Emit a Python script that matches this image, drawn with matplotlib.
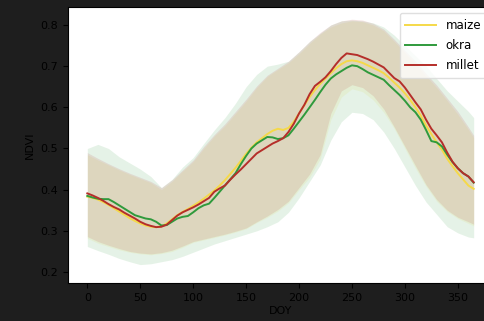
import numpy as np
import matplotlib
matplotlib.use("Agg")
import matplotlib.pyplot as plt

# ---------- Data ----------
doy = list(range(0, 365, 5)) + [365]

maize_mean = [0.383, 0.380, 0.376, 0.370, 0.363, 0.355, 0.347, 0.339, 0.331, 0.324,
              0.318, 0.313, 0.310, 0.309, 0.311, 0.318, 0.328, 0.338, 0.346, 0.353,
              0.361, 0.369, 0.378, 0.388, 0.398, 0.410, 0.423, 0.438, 0.453, 0.470,
              0.487, 0.502, 0.515, 0.525, 0.535, 0.543, 0.548, 0.545, 0.550, 0.565,
              0.585, 0.605, 0.625, 0.642, 0.657, 0.670, 0.683, 0.695, 0.705, 0.712,
              0.714, 0.712, 0.708, 0.702, 0.696, 0.690, 0.683, 0.672, 0.660, 0.648,
              0.634, 0.618, 0.600, 0.580, 0.556, 0.535, 0.515, 0.497, 0.475, 0.457,
              0.440, 0.425, 0.410, 0.402]
okra_mean = [0.385, 0.381, 0.378, 0.377, 0.377, 0.370, 0.362, 0.354, 0.346, 0.338,
             0.334, 0.330, 0.328, 0.322, 0.313, 0.314, 0.322, 0.330, 0.334, 0.336,
             0.345, 0.355, 0.362, 0.366, 0.380, 0.395, 0.410, 0.425, 0.440, 0.462,
             0.482, 0.500, 0.512, 0.520, 0.528, 0.527, 0.523, 0.525, 0.532, 0.548,
             0.565, 0.582, 0.600, 0.618, 0.637, 0.655, 0.670, 0.680, 0.688, 0.696,
             0.702, 0.700, 0.693, 0.685, 0.679, 0.673, 0.667, 0.654, 0.642, 0.630,
             0.616, 0.600, 0.588, 0.570, 0.545, 0.518, 0.515, 0.505, 0.485, 0.467,
             0.452, 0.440, 0.432, 0.417]
millet_mean = [0.391, 0.386, 0.380, 0.373, 0.365, 0.358, 0.352, 0.344, 0.337, 0.330,
               0.322, 0.316, 0.312, 0.309, 0.310, 0.315, 0.326, 0.337, 0.345, 0.351,
               0.357, 0.364, 0.372, 0.380, 0.395, 0.403, 0.410, 0.424, 0.437, 0.449,
               0.462, 0.475, 0.488, 0.496, 0.504, 0.512, 0.518, 0.525, 0.540, 0.560,
               0.585, 0.606, 0.632, 0.652, 0.662, 0.673, 0.688, 0.705, 0.720, 0.731,
               0.729, 0.727, 0.722, 0.717, 0.711, 0.704, 0.697, 0.684, 0.671, 0.663,
               0.648, 0.630, 0.612, 0.595, 0.570, 0.548, 0.532, 0.515, 0.490, 0.468,
               0.452, 0.440, 0.432, 0.418]

# spread bands (10-day steps)
band_doy = list(range(0, 365, 10)) + [365]
maize_lo = [0.282, 0.270, 0.262, 0.254, 0.248, 0.244, 0.242, 0.245, 0.250, 0.260,
            0.272, 0.278, 0.284, 0.290, 0.297, 0.305, 0.320, 0.333, 0.348, 0.368,
            0.400, 0.430, 0.475, 0.570, 0.625, 0.645, 0.638, 0.618, 0.588, 0.548,
            0.500, 0.452, 0.408, 0.372, 0.347, 0.330, 0.318, 0.312]
maize_hi = [0.485, 0.472, 0.460, 0.448, 0.437, 0.427, 0.417, 0.400, 0.420, 0.445,
            0.468, 0.500, 0.530, 0.555, 0.585, 0.615, 0.648, 0.675, 0.692, 0.708,
            0.730, 0.755, 0.778, 0.795, 0.805, 0.810, 0.808, 0.800, 0.786, 0.760,
            0.733, 0.706, 0.676, 0.648, 0.616, 0.583, 0.546, 0.526]
millet_lo = [0.286, 0.274, 0.265, 0.257, 0.250, 0.246, 0.244, 0.247, 0.253, 0.263,
             0.274, 0.280, 0.286, 0.292, 0.299, 0.307, 0.322, 0.336, 0.352, 0.372,
             0.405, 0.438, 0.485, 0.585, 0.640, 0.655, 0.648, 0.628, 0.596, 0.552,
             0.505, 0.458, 0.412, 0.376, 0.350, 0.333, 0.322, 0.316]
millet_hi = [0.490, 0.476, 0.463, 0.451, 0.440, 0.430, 0.420, 0.405, 0.424, 0.448,
             0.472, 0.505, 0.534, 0.560, 0.590, 0.620, 0.652, 0.678, 0.695, 0.712,
             0.735, 0.760, 0.782, 0.800, 0.810, 0.814, 0.812, 0.804, 0.790, 0.765,
             0.738, 0.712, 0.682, 0.654, 0.622, 0.590, 0.552, 0.532]
okra_lo = [0.262, 0.252, 0.243, 0.233, 0.225, 0.218, 0.220, 0.225, 0.230, 0.238,
           0.248, 0.258, 0.268, 0.276, 0.284, 0.292, 0.300, 0.310, 0.322, 0.345,
           0.380, 0.420, 0.460, 0.520, 0.565, 0.588, 0.585, 0.570, 0.540, 0.500,
           0.455, 0.410, 0.370, 0.340, 0.310, 0.295, 0.285, 0.283]
okra_hi = [0.500, 0.510, 0.500, 0.480, 0.465, 0.450, 0.432, 0.405, 0.425, 0.455,
           0.478, 0.512, 0.545, 0.575, 0.610, 0.650, 0.680, 0.700, 0.705, 0.712,
           0.735, 0.760, 0.780, 0.800, 0.810, 0.812, 0.810, 0.805, 0.795, 0.775,
           0.750, 0.725, 0.700, 0.670, 0.640, 0.615, 0.590, 0.575]

crops = ["maize", "okra", "millet"]
colors = {"maize": "#f5d949", "okra": "#2f9a3c", "millet": "#b52e2a"}
means = {"maize": maize_mean, "okra": okra_mean, "millet": millet_mean}
bands = {"maize": (maize_lo, maize_hi), "okra": (okra_lo, okra_hi),
         "millet": (millet_lo, millet_hi)}

# ---------- Plot ----------
fig = plt.figure(figsize=(4.85, 3.21), dpi=100, facecolor="#1e1e1e")
ax = fig.add_axes([68 / 485, 38 / 321, 425 / 485, 276 / 321])
ax.set_facecolor("white")

for c in crops:
    lo, hi = bands[c]
    ax.fill_between(band_doy, lo, hi, color=colors[c], alpha=0.12, linewidth=0)
for c in crops:
    ax.plot(doy, means[c], color=colors[c], linewidth=1.4, label=c)

ax.set_xlim(-18.25, 383.25)
ax.set_ylim(0.1733, 0.8437)
ax.set_xticks(np.arange(0, 351, 50))
ax.set_yticks([0.2, 0.3, 0.4, 0.5, 0.6, 0.7, 0.8])
ax.tick_params(labelsize=8, colors="black")
ax.set_xlabel("DOY", fontsize=8, color="black", labelpad=2)
ax.set_ylabel("NDVI", fontsize=8, color="black", labelpad=4)

leg = ax.legend(loc="upper right", fontsize=8.5, frameon=True,
                handlelength=2.6, labelspacing=0.6, borderpad=0.5)
leg.get_frame().set_edgecolor("#d8d8d8")

fig.savefig("out.png", dpi=100, facecolor=fig.get_facecolor())
